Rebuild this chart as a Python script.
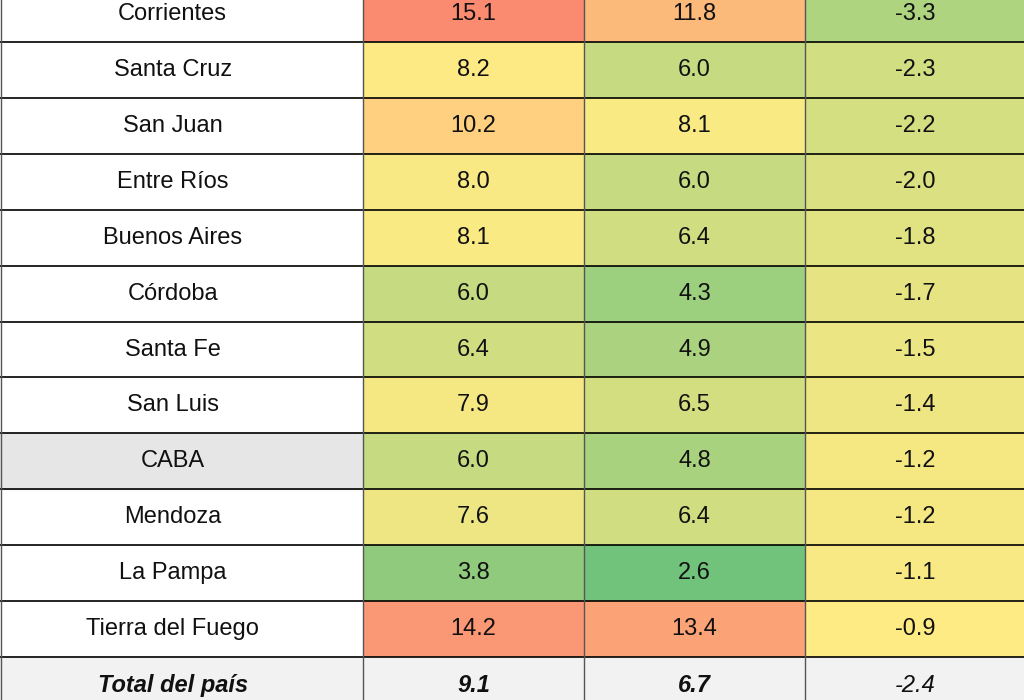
import numpy as np, pandas as pd, seaborn as sns, matplotlib
matplotlib.use("Agg")
import matplotlib.pyplot as plt
from matplotlib.colors import LinearSegmentedColormap, TwoSlopeNorm

plt.rcParams['font.family'] = ['Liberation Sans', 'DejaVu Sans']

provinces = ["Corrientes","Santa Cruz","San Juan","Entre Ríos","Buenos Aires","Córdoba",
             "Santa Fe","San Luis","CABA","Mendoza","La Pampa","Tierra del Fuego","Total del país"]
col_a = [15.1,8.2,10.2,8.0,8.1,6.0,6.4,7.9,6.0,7.6,3.8,14.2,9.1]
col_b = [11.8,6.0,8.1,6.0,6.4,4.3,4.9,6.5,4.8,6.4,2.6,13.4,6.7]
col_c = [-3.3,-2.3,-2.2,-2.0,-1.8,-1.7,-1.5,-1.4,-1.2,-1.2,-1.1,-0.9,-2.4]

df = pd.DataFrame({"a": col_a, "b": col_b, "c": col_c}, index=provinces)
n = len(df)

fig = plt.figure(figsize=(10.24, 7), dpi=100)
rowh = 727/700
ax = fig.add_axes([363/1024, -13/700, 663/1024, rowh])

cm1 = LinearSegmentedColormap.from_list("gyr", ["#57BB7A", "#FFEB84", "#F8696B"])
cm2 = LinearSegmentedColormap.from_list("gy", ["#63BE7B", "#FFEB84"])
norm1 = TwoSlopeNorm(vmin=1.5, vcenter=8.3, vmax=17.5)

mask_ab = np.zeros(df.shape, bool); mask_ab[:, 2] = True; mask_ab[-1, :] = True
mask_c = np.zeros(df.shape, bool); mask_c[:, :2] = True; mask_c[-1, :] = True
sns.heatmap(df, mask=mask_ab, cmap=cm1, norm=norm1, cbar=False, ax=ax)
sns.heatmap(df, mask=mask_c, cmap=cm2, vmin=-5.6, vmax=-0.9, cbar=False, ax=ax)

ax.fill_between([0, 3], n-1, n, color="#f2f2f2", zorder=0.5)
ax.set_facecolor("white")

for i in range(n):
    bold = i == n-1
    for j, v in enumerate(df.iloc[i]):
        ax.text(j+0.5, i+0.5, f"{v:.1f}", ha="center", va="center", fontsize=17,
                color="#111", fontweight="bold" if (bold and j < 2) else "normal",
                style="italic" if bold else "normal")
    xleft = -363/221
    if provinces[i] == "CABA":
        ax.fill_between([xleft, 0], i, i+1, color="#e6e6e6", clip_on=False, zorder=0.4)
    if bold:
        ax.fill_between([xleft, 0], i, i+1, color="#f2f2f2", clip_on=False, zorder=0.4)
    ax.text(xleft/2 - 0.04, i+0.5, provinces[i], ha="center", va="center", fontsize=17,
            color="#111", clip_on=False, fontweight="bold" if bold else "normal",
            style="italic" if bold else "normal")

for i in range(n+1):
    ax.plot([-363/221, 3], [i, i], color="black", lw=1.2, clip_on=False, zorder=5)
for x in [-363/221 + 0.005, 0, 1, 2, 3]:
    ax.plot([x, x], [0, n], color="#555", lw=1, clip_on=False, zorder=5)

ax.set_xticks([]); ax.set_yticks([])
ax.set_xlabel(""); ax.set_ylabel("")
for s in ax.spines.values():
    s.set_visible(False)
fig.savefig("out.png", dpi=100)
